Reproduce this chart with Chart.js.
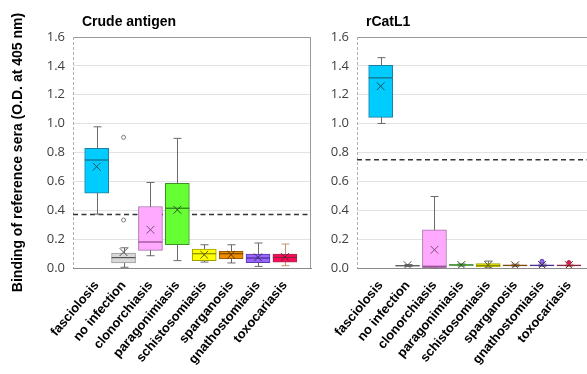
<!DOCTYPE html>
<html>
<head>
<meta charset="utf-8">
<script src="https://cdn.jsdelivr.net/npm/chart.js@4.4.1/dist/chart.umd.min.js"></script>
<style>
    html, body { margin: 0; padding: 0; background: #fff; overflow: hidden; width: 587px; height: 374px; }
    .panel { position: absolute; top: 0; width: 320px; height: 374px; }
    #crudeWrap { left: 0; }
    #catWrap { left: 284px; }
</style>
</head>
<body>
<div class="panel" id="crudeWrap"><canvas id="crudeChart" width="320" height="374"></canvas></div>
<div class="panel" id="catWrap"><canvas id="catChart" width="320" height="374"></canvas></div>
<script>
// Categories and axis
const groups = ['fasciolosis', 'no infection', 'clonorchiasis', 'paragonimiasis',
                'schistosomiasis', 'sparganosis', 'gnathostomiasis', 'toxocariasis'];
const yTicks = [0, 0.2, 0.4, 0.6, 0.8, 1.0, 1.2, 1.4, 1.6];

// Crude antigen
const crudeMin  = [0.373, 0.005, 0.085, 0.051, 0.041, 0.035, 0.011, 0.016];
const crudeQ1   = [0.518, 0.035, 0.122, 0.161, 0.050, 0.064, 0.037, 0.041];
const crudeMed  = [0.748, 0.072, 0.180, 0.414, 0.099, 0.099, 0.069, 0.073];
const crudeQ3   = [0.829, 0.104, 0.426, 0.587, 0.131, 0.115, 0.097, 0.097];
const crudeMax  = [0.978, 0.140, 0.592, 0.898, 0.161, 0.161, 0.173, 0.166];
const crudeMean = [0.702, 0.110, 0.265, 0.403, 0.092, 0.092, 0.074, 0.076];
const crudeOutGroup = [1, 1];
const crudeOutValue = [0.905, 0.332];
const crudeCutoff = 0.37;

// rCatL1
const catMin  = [1.001, 0.010, 0.000, 0.014, 0.006, 0.012, 0.012, 0.012];
const catQ1   = [1.043, 0.013, 0.003, 0.018, 0.008, 0.015, 0.015, 0.015];
const catMed  = [1.317, 0.016, 0.012, 0.021, 0.018, 0.018, 0.018, 0.018];
const catQ3   = [1.404, 0.019, 0.265, 0.024, 0.030, 0.021, 0.021, 0.021];
const catMax  = [1.457, 0.024, 0.495, 0.028, 0.048, 0.026, 0.027, 0.026];
const catMean = [1.259, 0.020, 0.126, 0.021, 0.020, 0.019, 0.021, 0.020];
const catOutGroup = [6, 7];
const catOutValue = [0.046, 0.038];
const catCutoff = 0.75;

// Colours per group
const boxFill   = ['#00ccff', '#d9d9d9', '#ffaaff', '#66ff33', '#ffff00', '#f08c00', '#9966ff', '#ff0a5a'];
const boxLine   = ['#1f7f9f', '#9a9a9a', '#a870a8', '#3c8f28', '#a0a000', '#9a5a00', '#5a3aa8', '#a0304a'];
const medColor  = ['#1a6a85', '#555555', '#8a4a8a', '#2a7a1a', '#8a8a00', '#7a4a00', '#4a2a90', '#8a2040'];
const meanColor = ['#1a4f60', '#555555', '#7a4a7a', '#2a5a1a', '#5a5a00', '#5a3a00', '#3a2a6a', '#6a2030'];
const whiskerColor = ['#6a6a6a', '#6a6a6a', '#6a6a6a', '#6a6a6a', '#6a6a6a', '#6a6a6a', '#6a6a6a', '#c8906a'];

// Whiskers, medians, cutoff line, frame and panel title
const boxPlotPlugin = {
    id: 'boxPlot',
    beforeDatasetsDraw(chart, args, opts) {
        const { ctx, chartArea: a, scales: { x, y } } = chart;
        ctx.save();
        ctx.lineWidth = 1;
        // right frame
        ctx.strokeStyle = '#9a9a9a';
        ctx.beginPath();
        ctx.moveTo(a.right - 0.5, a.top);
        ctx.lineTo(a.right - 0.5, a.bottom);
        ctx.stroke();
        // dashed left axis
        ctx.strokeStyle = '#b0b0b0';
        ctx.setLineDash([3, 2]);
        ctx.beginPath();
        ctx.moveTo(a.left + 0.5, a.top);
        ctx.lineTo(a.left + 0.5, a.bottom);
        ctx.stroke();

        // cutoff
        const cy = y.getPixelForValue(opts.cutoff);
        ctx.strokeStyle = '#333';
        ctx.lineWidth = 1.5;
        ctx.setLineDash([5, 3.5]);
        ctx.beginPath();
        ctx.moveTo(a.left, cy);
        ctx.lineTo(a.right, cy);
        ctx.stroke();
        ctx.setLineDash([]);

        // whiskers
        ctx.lineWidth = 1;
        opts.min.forEach((v, i) => {
            const px = Math.round(x.getPixelForValue(i)) + 0.5;
            const top = y.getPixelForValue(opts.max[i]);
            const bot = y.getPixelForValue(v);
            ctx.strokeStyle = whiskerColor[i];
            ctx.beginPath();
            ctx.moveTo(px, top); ctx.lineTo(px, bot);
            ctx.moveTo(px - 4, top); ctx.lineTo(px + 4, top);
            ctx.moveTo(px - 4, bot); ctx.lineTo(px + 4, bot);
            ctx.stroke();
        });
        ctx.restore();
    },
    afterDatasetDraw(chart, args, opts) {
        if (args.index !== 0) return;
        const { ctx, scales: { y } } = chart;
        ctx.save();
        ctx.lineWidth = 1.2;
        args.meta.data.forEach((bar, i) => {
            const py = y.getPixelForValue(opts.med[i]);
            ctx.strokeStyle = medColor[i];
            ctx.beginPath();
            ctx.moveTo(bar.x - bar.width / 2, py);
            ctx.lineTo(bar.x + bar.width / 2, py);
            ctx.stroke();
        });
        ctx.restore();
    },
    afterDraw(chart, args, opts) {
        const { ctx, chartArea: a } = chart;
        ctx.save();
        ctx.font = 'bold 14px "Liberation Sans", Arial, sans-serif';
        ctx.fillStyle = '#000';
        ctx.textBaseline = 'middle';
        ctx.fillText(opts.title, a.left + 9, 22);
        ctx.restore();
    }
};

function makeBoxChart(canvasId, title, stats, cutoff, outGroup, outValue, filledOutliers, showYTitle) {
    const ctx = document.getElementById(canvasId).getContext('2d');
    return new Chart(ctx, {
        type: 'bar',
        data: {
            datasets: [{
                type: 'bar',
                order: 3,
                data: groups.map((g, i) => ({ x: i, y: [stats.q1[i], stats.q3[i]] })),
                backgroundColor: boxFill,
                borderColor: boxLine,
                borderWidth: 1,
                borderSkipped: false,
                barThickness: 24
            }, {
                type: 'scatter',
                order: 2,
                data: groups.map((g, i) => ({ x: i, y: stats.mean[i] })),
                pointStyle: 'crossRot',
                pointRadius: 5.5,
                borderColor: meanColor,
                borderWidth: 1
            }, {
                type: 'scatter',
                order: 1,
                data: outGroup.map((g, i) => ({ x: g, y: outValue[i] })),
                pointStyle: 'circle',
                pointRadius: 2,
                borderColor: filledOutliers ? outGroup.map(g => boxLine[g]) : '#7a7a7a',
                backgroundColor: filledOutliers ? outGroup.map(g => boxFill[g]) : '#fff',
                borderWidth: 1
            }]
        },
        options: {
            responsive: false,
            animation: false,
            layout: { padding: { top: 37, right: 9, left: 0, bottom: 0 } },
            plugins: {
                legend: { display: false },
                tooltip: { enabled: false },
                boxPlot: { title: title, cutoff: cutoff, min: stats.min, max: stats.max, med: stats.med }
            },
            scales: {
                x: {
                    type: 'linear',
                    min: -0.88,
                    max: 7.97,
                    offset: false,
                    grid: { display: false, drawTicks: false, offset: false },
                    border: { display: true, color: '#8a8a8a', width: 1 },
                    afterBuildTicks: axis => { axis.ticks = groups.map((g, i) => ({ value: i })); },
                    afterFit: axis => { axis.height = 106; },
                    ticks: {
                        autoSkip: false,
                        minRotation: 50,
                        maxRotation: 50,
                        padding: 10,
                        color: '#000',
                        font: { family: '"Liberation Sans", Arial, sans-serif', size: 13, weight: 'bold' },
                        callback: v => groups[v]
                    }
                },
                y: {
                    min: 0,
                    max: 1.6,
                    afterBuildTicks: axis => { axis.ticks = yTicks.map(v => ({ value: v })); },
                    afterFit: axis => { axis.width = 73; },
                    grid: {
                        drawTicks: false,
                        color: c => c.tick.value === 1.6 ? '#9a9a9a' : (c.tick.value === 0 ? '#8a8a8a' : '#e2e2e2')
                    },
                    border: { display: false },
                    ticks: {
                        padding: 8,
                        color: '#404040',
                        font: { family: '"Open Sans", sans-serif', size: 13 },
                        callback: v => v.toFixed(1)
                    },
                    title: {
                        display: showYTitle,
                        text: 'Binding of reference sera (O.D. at 405 nm)',
                        color: '#000',
                        padding: { top: 10, bottom: 0 },
                        font: { family: '"Liberation Sans", Arial, sans-serif', size: 14, weight: 'bold' }
                    }
                }
            }
        },
        plugins: [boxPlotPlugin]
    });
}

makeBoxChart('crudeChart', 'Crude antigen',
    { min: crudeMin, q1: crudeQ1, med: crudeMed, q3: crudeQ3, max: crudeMax, mean: crudeMean },
    crudeCutoff, crudeOutGroup, crudeOutValue, false, true);

makeBoxChart('catChart', 'rCatL1',
    { min: catMin, q1: catQ1, med: catMed, q3: catQ3, max: catMax, mean: catMean },
    catCutoff, catOutGroup, catOutValue, true, false);
</script>
</body>
</html>
